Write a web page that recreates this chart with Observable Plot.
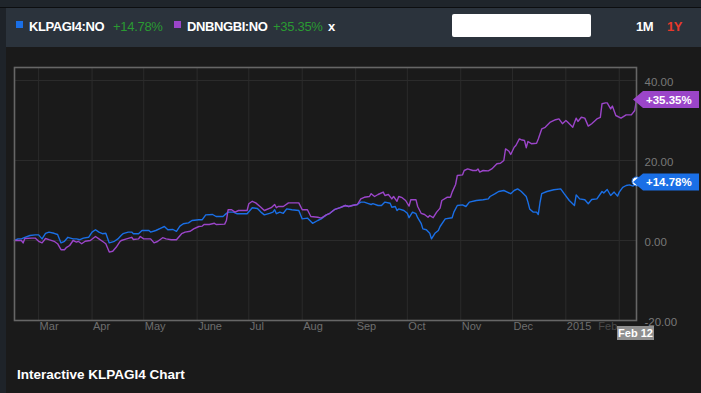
<!DOCTYPE html>
<html><head><meta charset="utf-8">
<script src="https://cdn.jsdelivr.net/npm/d3@7"></script>
<script src="https://cdn.jsdelivr.net/npm/@observablehq/plot@0.6"></script>
<style>
html,body{margin:0;padding:0;background:#1a1a1a;width:701px;height:393px;overflow:hidden;font-family:"Liberation Sans",Arial,sans-serif;}
#top{position:absolute;left:0;top:0;width:701px;height:7px;background:#1f252b;border-bottom:1px solid #0c0e10;}
#side{position:absolute;left:0;top:8px;width:6px;height:385px;background:#1e2329;}
#head{position:absolute;left:6px;top:8px;width:695px;height:39px;background:#2b333c;}
.t{position:absolute;white-space:nowrap;line-height:13px;font-size:13px;top:19.5px;}
.sq{position:absolute;top:21px;width:7px;height:7px;}
#search{position:absolute;left:452px;top:14px;width:139px;height:23px;background:#fff;border-radius:2px;}
#chart{position:absolute;left:0;top:47px;}
#caption{position:absolute;left:17px;top:368px;color:#fff;font-weight:bold;font-size:13.5px;line-height:14px;}
</style></head>
<body>
<div id="top"></div><div id="side"></div><div id="head"></div>
<div id="legend"></div>
<div id="search"></div>
<div id="chart"></div>
<div id="caption"></div>
<script>
const startDate = "2014-02-15";
const endDate = "2015-02-11";
const seriesNames = ["KLPAGI4:NO", "DNBNGBI:NO"];
const seriesChanges = ["+14.78%", "+35.35%"];
const seriesColors = ["#1a6fe6", "#9b45c9"];
const monthStarts = ["2014-03-01","2014-04-01","2014-05-01","2014-06-01","2014-07-01","2014-08-01","2014-09-01","2014-10-01","2014-11-01","2014-12-01","2015-01-01","2015-02-01"];
const monthLabels = ["Mar","Apr","May","June","Jul","Aug","Sep","Oct","Nov","Dec","2015","Feb"];
const yTicks = [40, 20, 0, -20];
const lastDateLabel = "Feb 12";
const captionText = "Interactive KLPAGI4 Chart";

// [days since startDate, % change]
const klpSeries = [[0,0],[2,0.4],[4,0.4],[6,0.8],[9,1.25],[12,1.4],[14,1.4],[16,0.4],[18,1.8],[20,2.1],[23,1.8],[25,1.5],[27,-0.6],[29,-0.2],[31,0.8],[34,0.4],[36,0.4],[38,0.2],[40,0.6],[43,0.8],[45,2.1],[47,2.7],[49,2.1],[51,1.7],[53,1.8],[55,-0.6],[58,-0.2],[60,0.4],[62,1.3],[63,1.7],[66,2.1],[68,2.1],[69,1.7],[72,1.7],[74,2.5],[78,2.5],[79,2.1],[82,2.5],[85,3.1],[87,3.5],[89,2.7],[92,2.75],[94,2.3],[96,3.6],[98,4.2],[101,4.4],[103,5.0],[107,5.2],[109,5.2],[111,6.4],[115,6.5],[117,6.0],[121,6.0],[122,6.4],[124,7.1],[127,7.1],[129,6.7],[132,6.7],[135,6.7],[138,8.2],[141,8.0],[143,7.1],[145,6.4],[148,6.8],[150,7.1],[151,7.7],[152,6.7],[154,7.1],[156,6.8],[158,7.9],[161,7.7],[165,7.5],[167,5.4],[170,5.6],[173,4.3],[176,5.0],[178,5.4],[181,6.4],[183,6.8],[186,7.8],[189,8.2],[192,8.75],[194,8.5],[196,8.75],[199,9.0],[201,9.6],[203,9.6],[205,9.3],[207,9.0],[208,9.2],[211,8.75],[213,8.75],[215,9.6],[218,9.3],[219,8.3],[221,8.5],[222,7.5],[223,7.9],[226,7.5],[228,6.8],[229,5.7],[231,7.1],[233,6.7],[234,5.7],[236,4.3],[237,2.9],[239,2.7],[241,1.8],[242,0.4],[244,1.8],[246,2.5],[247,3.5],[250,5.4],[254,5.7],[255,7.1],[257,8.75],[260,8.9],[262,8.5],[264,9.6],[268,10.0],[272,10.2],[275,10.4],[276,11.0],[279,11.7],[281,12.25],[284,12.5],[286,12.1],[288,11.7],[290,12.5],[292,12.9],[294,12.3],[297,11.0],[298,9.6],[299,7.9],[301,7.1],[303,7.1],[304,6.5],[305,9.5],[306,11.7],[309,12.25],[313,12.7],[317,12.9],[319,11.7],[322,10.0],[325,8.75],[326,11.4],[328,10.4],[331,10.2],[333,9.2],[335,10.25],[338,10.4],[341,12.25],[342,11.9],[344,12.75],[346,11.25],[348,12.1],[350,11.1],[351,12.1],[353,13.3],[355,13.75],[357,13.9],[359,13.6],[361,14.78]];
const dnbSeries = [[0,0],[4,0],[5,-0.6],[6,0.5],[10,0.6],[12,0.6],[14,-0.2],[16,-0.6],[18,0.5],[20,0.2],[23,-0.2],[25,-0.8],[27,-2.3],[29,-2.3],[30,-1.8],[32,-1.25],[34,0],[36,-0.4],[37,-0.2],[39,-0.8],[41,-0.2],[44,0],[47,1.0],[49,0.4],[51,-0.2],[53,-0.8],[55,-2.9],[57,-2.7],[59,-1.7],[61,-0.4],[62,0],[65,0.4],[68,0.8],[69,0.25],[72,0.4],[73,1.0],[75,0.4],[79,0.4],[81,-0.6],[83,-0.25],[86,0.7],[88,0.4],[91,0.2],[94,0.2],[97,1.7],[99,2.1],[102,2.3],[104,2.9],[107,3.5],[109,3.6],[110,4.0],[113,4.0],[116,4.3],[117,4.0],[122,4.1],[123,5.0],[124,7.7],[126,7.7],[128,7.1],[130,7.5],[135,7.5],[136,9.2],[138,9.8],[140,9.4],[143,8.3],[145,7.5],[149,8.2],[151,9.0],[152,8.2],[153,8.5],[156,8.5],[159,9.4],[161,9.4],[165,9.4],[167,7.7],[170,7.7],[172,6.0],[176,5.8],[178,5.6],[181,6.4],[183,6.8],[186,7.8],[189,8.2],[192,8.75],[194,8.5],[196,8.75],[199,9.0],[201,10.4],[203,10.8],[206,11.0],[207,11.7],[209,11.0],[211,11.5],[214,12.1],[215,11.25],[217,11.5],[219,10.4],[220,11.0],[222,9.8],[223,11.0],[225,10.7],[227,10.0],[229,8.6],[230,10.2],[233,10.2],[234,8.5],[236,6.8],[238,6.5],[240,5.8],[241,6.25],[243,5.7],[245,7.1],[247,8.1],[248,10.0],[251,10.8],[253,10.8],[254,12.1],[256,14.0],[257,16.25],[260,16.4],[261,17.5],[263,17.9],[266,17.5],[268,17.5],[269,17.9],[270,17.1],[272,17.5],[275,17.4],[277,17.9],[278,18.3],[280,19.2],[282,19.3],[284,20.0],[285,22.9],[287,22.3],[288,21.5],[290,23.3],[291,23.75],[293,25.4],[294,25.2],[296,25.0],[297,23.2],[298,24.75],[300,24.2],[303,24.3],[304,25.4],[306,27.9],[308,28.3],[311,29.6],[314,30.2],[316,30.4],[318,29.2],[320,30.0],[321,29.6],[324,28.3],[326,30.6],[327,29.75],[329,30.8],[331,30.6],[333,28.6],[335,29.2],[338,30.4],[340,30.8],[341,34.2],[343,34.4],[344,34.4],[346,32.9],[347,33.6],[349,31.25],[352,30.6],[355,31.4],[358,31.4],[360,32.5],[361,35.35]];

const t0 = new Date(startDate), t1 = new Date(endDate);
const toRows = s => s.map(([d, v]) => ({date: d3.utcDay.offset(t0, d), v}));
const klp = toRows(klpSeries), dnb = toRows(dnbSeries);
const months = monthStarts.map(s => new Date(s));
const lastIdx = months.length - 1;

// header legend
const legend = document.getElementById("legend");
const items = [
  {cls:"sq", left:16, bg:seriesColors[0]},
  {text:seriesNames[0], left:29, color:"#fff", bold:true},
  {text:seriesChanges[0], left:113, color:"#2a9a32"},
  {cls:"sq", left:174, bg:seriesColors[1]},
  {text:seriesNames[1], left:187, color:"#fff", bold:true},
  {text:seriesChanges[1], left:273, color:"#2a9a32"},
  {text:"x", left:328, color:"#fff", bold:true},
  {text:"1M", left:636, color:"#fff", bold:true},
  {text:"1Y", left:667, color:"#e8392b", bold:true}
];
for (const it of items) {
  const el = document.createElement("div");
  if (it.cls) { el.className = "sq"; el.style.background = it.bg; }
  else { el.className = "t"; el.textContent = it.text; el.style.color = it.color; if (it.bold) { el.style.fontWeight = "bold"; el.style.letterSpacing = "-0.4px"; } else el.style.letterSpacing = "-0.3px"; }
  el.style.left = it.left + "px";
  legend.appendChild(el);
}
document.getElementById("caption").textContent = captionText;

const chart = Plot.plot({
  width: 701, height: 303,
  marginLeft: 14, marginRight: 65, marginTop: 20, marginBottom: 30,
  style: {background: "transparent", color: "#777", fontFamily: "'Liberation Sans', Arial, sans-serif", overflow: "visible"},
  x: {type: "utc", domain: [t0, t1], axis: null},
  y: {domain: [-20, 43.25], axis: null},
  marks: [
    Plot.ruleX(months, {stroke: "#2b2b2b", strokeWidth: 1}),
    Plot.ruleY(yTicks.filter(d => d > -20), {stroke: "#2b2b2b", strokeWidth: 1}),
    Plot.line(klp, {x: "date", y: "v", stroke: seriesColors[0], strokeWidth: 1.4}),
    Plot.line(dnb, {x: "date", y: "v", stroke: seriesColors[1], strokeWidth: 1.4}),
    Plot.frame({stroke: "#666", strokeWidth: 1.6}),
    Plot.text(months.slice(0, lastIdx), {x: d => d, frameAnchor: "bottom", dy: 9.5, dx: 1, text: (d, i) => monthLabels[i], textAnchor: "start", fill: "#6e6e6e", fontSize: 11}),
    Plot.text([months[lastIdx]], {x: d => d, frameAnchor: "bottom", dy: 9.5, dx: -2, text: () => monthLabels[lastIdx], textAnchor: "end", fill: "#4a4a4a", fontSize: 11}),
    Plot.text(yTicks, {y: d => d, x: () => t1, dx: 8, dy: 2, text: d => d.toFixed(2), textAnchor: "start", fill: "#787878", fontSize: 11.5}),
    Plot.dot([klp[klp.length - 1]], {x: "date", y: "v", r: 4.5, fill: "#fff", stroke: seriesColors[0], strokeWidth: 1})
  ]
});
document.getElementById("chart").appendChild(chart);

// value tags and last-date tag positioned through the plot's scales
const xs = chart.scale("x"), ys = chart.scale("y");
const svg = d3.select(chart);
const lastVals = [klp[klp.length - 1].v, dnb[dnb.length - 1].v];
lastVals.forEach((v, i) => {
  const X = xs.apply(t1), Y = ys.apply(v) + 1;
  const g = svg.append("g");
  g.append("path").attr("d", `M${X - 3},${Y}L${X + 7},${Y - 8.5}H${X + 63}V${Y + 8.5}H${X + 7}Z`).attr("fill", seriesColors[i]);
  g.append("text").attr("x", X + 10).attr("y", Y).attr("dy", "0.36em").attr("fill", "#fff").attr("text-anchor", "start")
    .attr("font-weight", "bold").attr("font-size", 11.5).text(seriesChanges[i]);
});
{
  const X = xs.apply(t1), Y = ys.apply(-20);
  const g = svg.append("g");
  g.append("rect").attr("x", X - 19).attr("y", Y + 6).attr("width", 37).attr("height", 14).attr("fill", "#8f8f8f");
  g.append("text").attr("x", X - 0.5).attr("y", Y + 13).attr("dy", "0.35em").attr("text-anchor", "middle")
    .attr("fill", "#fff").attr("font-weight", "bold").attr("font-size", 11).text(lastDateLabel);
}
</script>
</body></html>
